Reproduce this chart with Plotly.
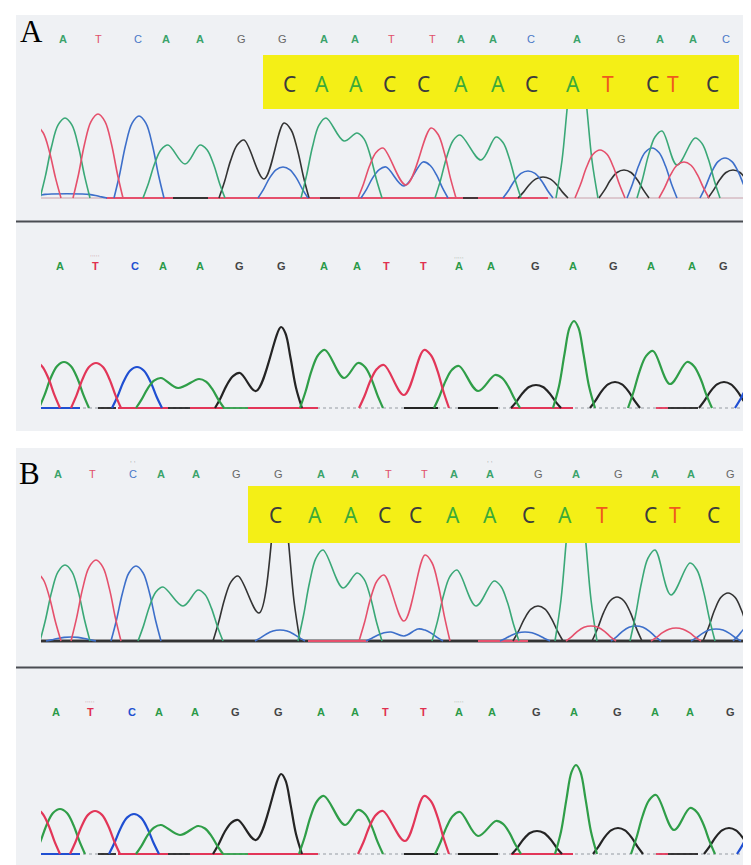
import plotly.graph_objects as go

FIG_W, FIG_H = 751, 865
X_LEFT, X_RIGHT = 33, 738          # scan window shown

# ---------------- DATA (scan position, signal) ----------------
# Each channel: list of peak groups; a group = apex/valley points (scan, signal)
# ---- Panel A, mutant read (top) ----
A1_T = [[(28, 72)], [(90, 84)], [(375, 50), (398, 13), (423, 70)], [(592, 48)], [(676, 36)]]
A1_A = [[(57, 80)], [(160, 53), (177, 34), (192, 53)], [(318, 80), (336, 57), (349, 65)],
        [(452, 63), (473, 38), (488, 61)], [(569, 150)], [(654, 67), (669, 33), (687, 60)]]
A1_C = [[(44, 4), (74, 4)], [(131, 82)], [(275, 31)], [(378, 31), (396, 12), (415, 36)],
        [(520, 27)], [(644, 50)], [(717, 40)]]
A1_G = [[(236, 58), (256, 19), (276, 75)], [(535, 21)], [(616, 28)], [(725, 28)]]
A1_SEQ = list("ATCAAGGAATTAACAGAAC")
A1_POS = [55, 90, 130, 158, 192, 233, 274, 316, 347, 383, 424, 453, 485, 523, 569, 613, 652, 685, 718]
A_BOX_SEQ = list("CAACCAACATCTC")
A_BOX_POS = [281, 314, 348, 381, 415, 453, 490, 523, 565, 600, 644, 665, 704]

# ---- Panel A, reference read (bottom) ----
A2_T = [[(27, 46)], [(88, 45)], [(376, 43), (396, 13), (416, 58)]]
A2_A = [[(56, 46)], [(153, 30), (170, 20), (191, 29)], [(317, 58), (336, 30), (350, 45)],
        [(451, 42), (470, 17), (487, 33)], [(566, 87)], [(645, 57), (662, 24), (679, 46)]]
A2_C = [[(129, 41)], [(752, 32)]]
A2_G = [[(232, 35), (248, 17), (273, 81)], [(528, 23)], [(607, 26)], [(716, 26)]]
A2_SEQ = list("ATCAAGGAATTAAGAGAAG")
A2_POS = [52, 87, 127, 155, 192, 231, 273, 316, 349, 378, 415, 451, 483, 527, 565, 605, 643, 684, 715]

# ---- Panel B, mutant read (top) ----
B1_T = [[(28, 68)], [(88, 81)], [(376, 66), (396, 20), (417, 86)], [(583, 15)], [(668, 13)]]
B1_A = [[(57, 76)], [(155, 54), (175, 35), (190, 51)], [(315, 91), (335, 53), (349, 68)],
        [(449, 71), (468, 35), (486, 60)], [(568, 165)], [(647, 91), (663, 46), (682, 78)]]
B1_C = [[(63, 4)], [(128, 75)], [(272, 11)], [(383, 9), (396, 5), (410, 12)], [(517, 9)],
        [(628, 15)], [(708, 12)], [(750, 20)]]
B1_G = [[(230, 65), (251, 28), (271, 160)], [(530, 35)], [(609, 44)], [(720, 48)]]
B1_SEQ = list("ATCAAGGAATTAAGAGAAG")
B1_POS = [50, 84, 125, 153, 188, 228, 270, 313, 347, 380, 416, 446, 482, 530, 568, 610, 647, 683, 722]
B_BOX_SEQ = list("CAACCAACATCTC")
B_BOX_POS = [267, 307, 343, 376, 407, 445, 482, 520, 557, 594, 642, 667, 705]

# ---- Panel B, reference read (bottom) ----
B2_T = [[(27, 45)], [(87, 43)], [(375, 43), (397, 13), (416, 58)]]
B2_A = [[(52, 45)], [(153, 29), (172, 19), (190, 28)], [(316, 58), (337, 29), (350, 44)],
        [(452, 42), (470, 18), (488, 33)], [(568, 89)], [(648, 59), (666, 24), (682, 46)]]
B2_C = [[(126, 40)], [(754, 32)]]
B2_G = [[(230, 34), (248, 14), (273, 80)], [(529, 23)], [(610, 26)], [(721, 26)]]
B2_SEQ = list("ATCAAGGAATTAAGAGAAG")
B2_POS = [48, 82, 124, 151, 187, 227, 270, 313, 347, 377, 415, 451, 484, 528, 566, 609, 647, 682, 722]

# apexes (scan) of the sharp, tall peaks in each read
A1_SHARP = [569]
A2_SHARP = [566, 273]
B1_SHARP = [568, 271]
B2_SHARP = [568, 273]

# flat baseline pieces (scan ranges) that show a channel colour
A1_BASE = {"T": [(98, 540)], "G": [(165, 200), (312, 332), (455, 470)]}
A2_BASE = {"C": [(33, 72)], "G": [(90, 108), (160, 182), (396, 430), (450, 490), (660, 690)],
           "T": [(110, 160), (182, 215), (240, 310), (503, 565), (648, 660)], "A": [(215, 240)]}
B1_BASE = {"G": [(33, 738)], "T": [(300, 360), (470, 520)]}
B2_BASE = {"C": [(33, 72)], "G": [(90, 108), (160, 182), (396, 430), (450, 490), (660, 690)],
           "T": [(110, 160), (182, 215), (240, 310), (503, 565), (648, 660)], "A": [(215, 240)]}

# ---------------- STYLE ----------------
COL_TOP = {"A": "#3aa877", "T": "#e5506c", "C": "#3d6fca", "G": "#333333"}
COL_BOT = {"A": "#2f9e48", "T": "#e23658", "C": "#1f4fd2", "G": "#242424"}
TXT_TOP = {"A": "#3aa36a", "T": "#e0506a", "C": "#4a78c8", "G": "#666666"}
TXT_BOT = {"A": "#2a9a48", "T": "#e0304f", "C": "#2050d0", "G": "#444444"}
BOX_TXT = {"C": "#3c3c3c", "A": "#3caa38", "T": "#ef5a1e"}

# peak flank templates: (offset in scan units from apex, fraction of apex)
FLANK = [(-25, 0.0), (-19.5, 0.28), (-13.5, 0.64), (-7, 0.91)]
FLANK_SHARP = [(-21, 0.0), (-15, 0.25), (-9.5, 0.62), (-4.5, 0.92)]

TRACKS = [
    # name, channels, sharp apexes, base pieces, baseline px, top px, colours, width, yaxis
    ("A1", {"A": A1_A, "C": A1_C, "G": A1_G, "T": A1_T}, A1_SHARP, A1_BASE, 190, 60, COL_TOP, 1.6, "y"),
    ("A2", {"A": A2_A, "C": A2_C, "G": A2_G, "T": A2_T}, A2_SHARP, A2_BASE, 400, 270, COL_BOT, 2.2, "y2"),
    ("B1", {"A": B1_A, "C": B1_C, "G": B1_G, "T": B1_T}, B1_SHARP, B1_BASE, 633, 500, COL_TOP, 1.6, "y3"),
    ("B2", {"A": B2_A, "C": B2_C, "G": B2_G, "T": B2_T}, B2_SHARP, B2_BASE, 846, 720, COL_BOT, 2.2, "y4"),
]
PAD = 4


def knots(groups, sharp):
    xs, ys = [], []
    for g in groups:
        cx, h = g[0]
        fl = FLANK_SHARP if cx in sharp else FLANK
        for dx, f in fl:
            xs.append(cx + dx); ys.append(h * f)
        for x, y in g:
            xs.append(x); ys.append(y)
        cx, h = g[-1]
        fl = FLANK_SHARP if cx in sharp else FLANK
        for dx, f in reversed(fl):
            xs.append(cx - dx); ys.append(h * f)
        xs.append(None); ys.append(None)
    return xs, ys


def py(p):
    return 1 - p / FIG_H


fig = go.Figure()
layout_axes = {}
for i, (name, chans, sharp, base, bpx, tpx, cols, lw, yax) in enumerate(TRACKS):
    axkey = "yaxis" if i == 0 else f"yaxis{i + 1}"
    layout_axes[axkey] = dict(domain=[py(bpx + PAD), py(tpx)], range=[-PAD, bpx - tpx],
                              visible=False, anchor="x", fixedrange=True)
    bottom = name.endswith("2")
    fig.add_trace(go.Scatter(x=[X_LEFT, X_RIGHT], y=[0, 0], mode="lines", yaxis=yax, xaxis="x",
                             line=dict(color="#b4b8bd" if bottom else ("#222" if name == "B1" else "#c9a0aa"),
                                       width=1.6 if bottom else (2.6 if name == "B1" else 1.0),
                                       dash="dot" if bottom else "solid"),
                             hoverinfo="skip", showlegend=False))
    for ch, segs in base.items():
        bx, by = [], []
        for a, b in segs:
            bx += [a, b, None]; by += [0, 0, None]
        fig.add_trace(go.Scatter(x=bx, y=by, mode="lines", yaxis=yax, xaxis="x",
                                 line=dict(color=cols[ch], width=2.4 if name == "B1" and ch == "G" else 1.8),
                                 hoverinfo="skip", showlegend=False))
    for ch in ["G", "C", "A", "T"]:
        xs, ys = knots(chans[ch], sharp)
        fig.add_trace(go.Scatter(x=xs, y=ys, mode="lines", yaxis=yax, xaxis="x",
                                 line=dict(color=cols[ch], width=lw, shape="spline", smoothing=1.0),
                                 connectgaps=False, hoverinfo="skip", showlegend=False))

shapes = [
    dict(type="rect", xref="paper", yref="paper", x0=8 / FIG_W, x1=1, y0=py(423), y1=py(7),
         fillcolor="#eff1f4", line=dict(width=0), layer="below"),
    dict(type="rect", xref="paper", yref="paper", x0=8 / FIG_W, x1=1, y0=py(865), y1=py(440),
         fillcolor="#eff1f4", line=dict(width=0), layer="below"),
    dict(type="line", xref="paper", yref="paper", x0=8 / FIG_W, x1=1, y0=py(213.5), y1=py(213.5),
         line=dict(color="#4a4d52", width=2), layer="above"),
    dict(type="line", xref="paper", yref="paper", x0=8 / FIG_W, x1=1, y0=py(659.5), y1=py(659.5),
         line=dict(color="#4a4d52", width=2), layer="above"),
    dict(type="rect", xref="paper", yref="paper", x0=255 / FIG_W, x1=731 / FIG_W, y0=py(101), y1=py(47),
         fillcolor="#f4ef16", line=dict(width=0), layer="above"),
    dict(type="rect", xref="paper", yref="paper", x0=240 / FIG_W, x1=732 / FIG_W, y0=py(535), y1=py(478),
         fillcolor="#f4ef16", line=dict(width=0), layer="above"),
]

ann = []


def calls(seq, pos, ypx, colors, bold, size):
    for b, x in zip(seq, pos):
        ann.append(dict(x=x, y=py(ypx), xref="x", yref="paper", text=f"<b>{b}</b>" if (bold or b == "A") else b,
                        showarrow=False, font=dict(family="Liberation Sans", size=size, color=colors[b]),
                        xanchor="center", yanchor="middle"))


calls(A1_SEQ, A1_POS, 31, TXT_TOP, False, 11)
calls(A2_SEQ, A2_POS, 258, TXT_BOT, True, 11)
calls(B1_SEQ, B1_POS, 466, TXT_TOP, False, 11)
calls(B2_SEQ, B2_POS, 704, TXT_BOT, True, 11)

for seq, pos, ypx in [(A_BOX_SEQ, A_BOX_POS, 76), (B_BOX_SEQ, B_BOX_POS, 507)]:
    for b, x in zip(seq, pos):
        ann.append(dict(x=x, y=py(ypx), xref="x", yref="paper", text=b, showarrow=False,
                        font=dict(family="Noto Sans", size=21, color=BOX_TXT[b]),
                        xanchor="center", yanchor="middle"))

# small quality marks above some calls
for x, ypx, txt, c in [(125, 453, "· ·", "#555"), (482, 453, "· ·", "#555"),
                       (87, 247, "·····", "#b07080"), (451, 249, "·····", "#70907a"),
                       (82, 693, "·····", "#b07080"), (451, 693, "·····", "#70907a")]:
    ann.append(dict(x=x, y=py(ypx), xref="x", yref="paper", text=txt, showarrow=False,
                    font=dict(family="DejaVu Sans", size=6, color=c),
                    xanchor="center", yanchor="middle"))

for lab, xpx, ypx in [("A", 23, 23), ("B", 21, 466)]:
    ann.append(dict(x=xpx / FIG_W, y=py(ypx), xref="paper", yref="paper", text=lab, showarrow=False,
                    font=dict(family="Liberation Serif", size=31, color="#000"),
                    xanchor="center", yanchor="middle"))

fig.update_layout(
    width=FIG_W, height=FIG_H, margin=dict(l=0, r=0, t=0, b=0),
    paper_bgcolor="white", plot_bgcolor="rgba(0,0,0,0)",
    xaxis=dict(domain=[X_LEFT / FIG_W, X_RIGHT / FIG_W], range=[X_LEFT, X_RIGHT], visible=False,
               anchor="y", fixedrange=True),
    shapes=shapes, annotations=ann, showlegend=False,
    **layout_axes,
)
fig.write_html("out.html", config={"displayModeBar": False})
